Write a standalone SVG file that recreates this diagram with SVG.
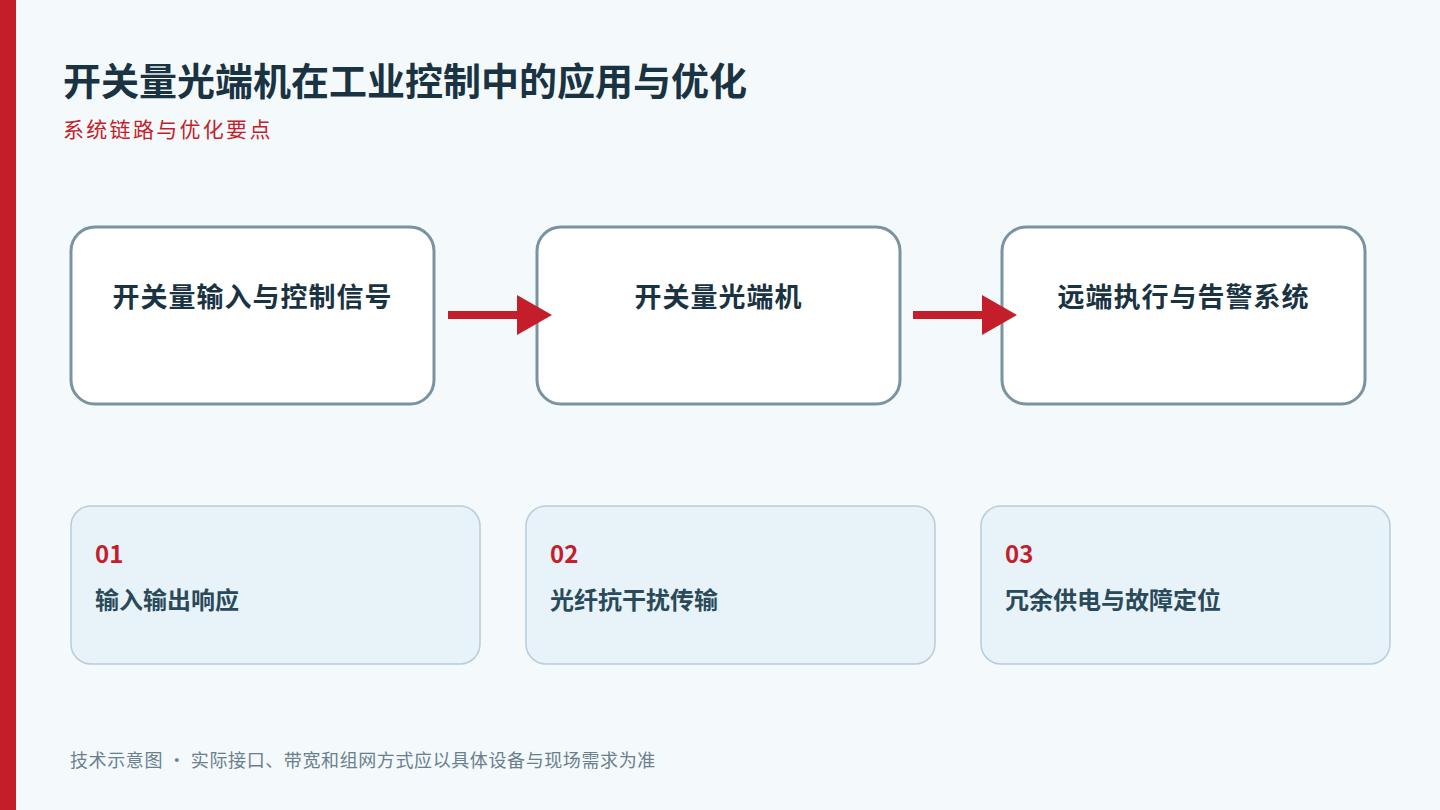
<svg xmlns="http://www.w3.org/2000/svg" width="1440" height="810" viewBox="0 0 1440 810">
<defs>
<style>
.cjk{font-family:"Noto Sans CJK SC","Noto Sans",sans-serif}
.node rect{fill:#FFFFFF;stroke:#7A93A2;stroke-width:3}
.node text{font-size:27px;font-weight:700;fill:#1A3342;text-anchor:middle;letter-spacing:1px}
.card rect{fill:#E8F2F9;stroke:#B8CCD9;stroke-width:1.5}
.card .num{font-size:24px;font-weight:700;fill:#C41E2A}
.card .lbl{font-size:24px;font-weight:700;fill:#2A4A5A}
.conn line{stroke:#C41E2A;stroke-width:8}
</style>
<marker id="ah" markerUnits="userSpaceOnUse" markerWidth="36" markerHeight="40" refX="0" refY="20" orient="auto">
<path d="M0,0 L35,20 L0,40 Z" fill="#C41E2A"/>
</marker>
</defs>
<rect x="0" y="0" width="1440" height="810" fill="#F4F9FC"/>
<rect x="0" y="0" width="16" height="810" fill="#C41E2A"/>
<text class="cjk" x="63" y="95" font-size="38" font-weight="700" fill="#1A3342">开关量光端机在工业控制中的应用与优化</text>
<text class="cjk" x="63" y="137" font-size="21" fill="#C41E2A" letter-spacing="2.3">系统链路与优化要点</text>
<g id="node1" class="node cjk"><rect x="71" y="227" width="363" height="177" rx="24"/><text x="252.5" y="307">开关量输入与控制信号</text></g>
<g id="node2" class="node cjk"><rect x="537" y="227" width="363" height="177" rx="24"/><text x="718.5" y="307">开关量光端机</text></g>
<g id="node3" class="node cjk"><rect x="1002" y="227" width="363" height="177" rx="24"/><text x="1183.5" y="307">远端执行与告警系统</text></g>
<g id="connectors" class="conn">
<line x1="448" y1="315" x2="517" y2="315" marker-end="url(#ah)"/>
<line x1="913" y1="315" x2="982" y2="315" marker-end="url(#ah)"/>
</g>
<g id="card1" class="card cjk"><rect x="71" y="506" width="409" height="158" rx="20"/><text class="num" x="95" y="563">01</text><text class="lbl" x="95" y="609">输入输出响应</text></g>
<g id="card2" class="card cjk"><rect x="526" y="506" width="409" height="158" rx="20"/><text class="num" x="550" y="563">02</text><text class="lbl" x="550" y="609">光纤抗干扰传输</text></g>
<g id="card3" class="card cjk"><rect x="981" y="506" width="409" height="158" rx="20"/><text class="num" x="1005" y="563">03</text><text class="lbl" x="1005" y="609">冗余供电与故障定位</text></g>
<text class="cjk" x="70" y="767" font-size="18" fill="#6A808E" letter-spacing="0.6">技术示意图 · 实际接口、带宽和组网方式应以具体设备与现场需求为准</text>
</svg>
